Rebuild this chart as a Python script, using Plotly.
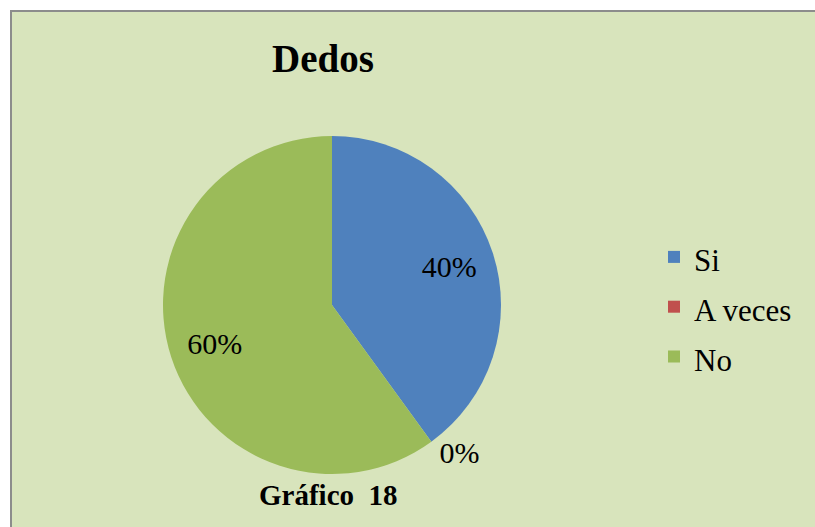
import plotly.graph_objects as go

labels = ["Si", "A veces", "No"]
values = [40, 0, 60]
colors = ["#4F81BD", "#C0504D", "#9BBB59"]
title_text = "Dedos"
caption_text = "Gráfico\u00a0\u00a018"

W, H = 815, 527
SERIF = "Liberation Serif"

legend_names = ["<span style='font-size:31px'>%s</span>" % l for l in labels]
dom = dict(x=[163 / W, 501 / W], y=[1 - 474 / H, 1 - 136 / H])

fig = go.Figure()
# coloured slices + legend
fig.add_trace(go.Pie(
    labels=legend_names,
    values=values,
    sort=False,
    direction="clockwise",
    rotation=0,
    marker=dict(colors=colors, line=dict(width=0)),
    textinfo="none",
    domain=dom,
    hoverinfo="label+percent",
))
# transparent ring carrying the percentage labels
fig.add_trace(go.Pie(
    labels=legend_names,
    values=values,
    sort=False,
    direction="clockwise",
    rotation=0,
    hole=0.46,
    marker=dict(colors=["rgba(0,0,0,0)"] * len(values), line=dict(width=0)),
    texttemplate="%{percent:.0%}",
    textposition=["inside", "outside", "inside"],
    insidetextorientation="horizontal",
    textfont=dict(family=SERIF, size=30, color="black"),
    domain=dom,
    showlegend=False,
    hoverinfo="skip",
))

fig.update_layout(
    width=W, height=H,
    margin=dict(l=0, r=0, t=0, b=0),
    font=dict(family=SERIF, color="black"),
    paper_bgcolor="white",
    plot_bgcolor="white",
    showlegend=True,
    legend=dict(
        x=654 / W, y=1 - 227 / H, xanchor="left", yanchor="top",
        font=dict(family=SERIF, size=36, color="black"),
        bgcolor="rgba(0,0,0,0)",
    ),
    shapes=[dict(
        type="rect", xref="paper", yref="paper",
        x0=11 / W, x1=1.2, y0=-0.2, y1=1 - 11 / H,
        fillcolor="#D8E4BC", line=dict(color="#8C8C8C", width=2),
        layer="below",
    )],
    annotations=[
        dict(text="<b>%s</b>" % title_text, x=323 / W, y=1 - 59 / H,
             xref="paper", yref="paper", showarrow=False,
             xanchor="center", yanchor="middle",
             font=dict(family=SERIF, size=39, color="black")),
        dict(text="<b>%s</b>" % caption_text, x=328 / W, y=1 - 495 / H,
             xref="paper", yref="paper", showarrow=False,
             xanchor="center", yanchor="middle",
             font=dict(family=SERIF, size=29, color="black")),
    ],
)

fig.write_html(
    "out.html",
    config={"displayModeBar": False},
    post_script="document.body.style.margin='0';document.body.style.overflow='hidden';",
)
